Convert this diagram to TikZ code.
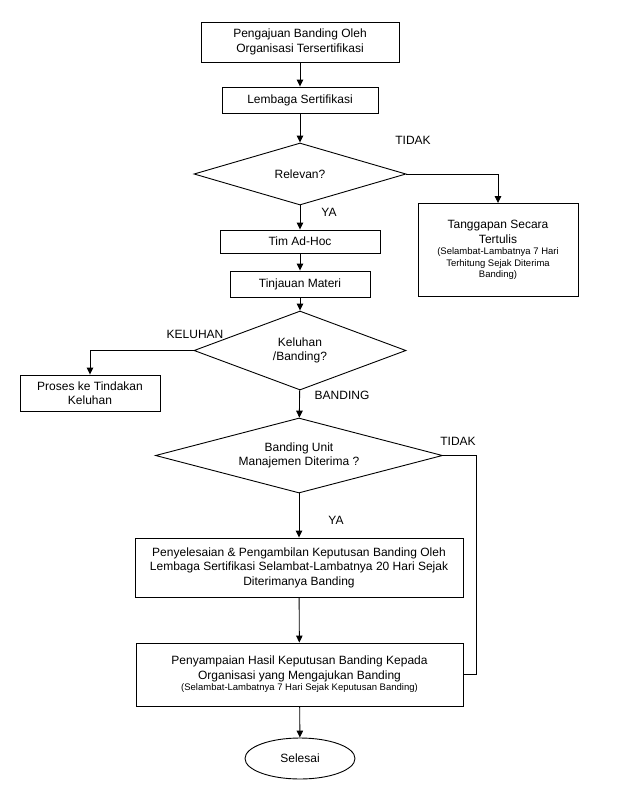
\documentclass[tikz,border=0pt]{standalone}
\usepackage{fontspec}
\setmainfont{Liberation Sans}
\usepackage{tikz}
\usetikzlibrary{positioning,arrows.meta,shapes.geometric}
\newcommand{\flowtext}{\fontsize{12}{14.5}\selectfont}
\newcommand{\flowsmall}{\fontsize{9.5}{11.5}\selectfont}

\begin{document}
\begin{tikzpicture}[x=1pt, y=-1pt,
  box/.style={draw, line width=0.9pt, align=flush center, inner sep=0pt, font=\flowtext},
  decision/.style={draw, diamond, line width=0.9pt, align=center, inner sep=0pt, font=\flowtext},
  terminal/.style={draw, ellipse, line width=0.9pt, inner sep=0pt, font=\flowtext},
  tag/.style={font=\flowtext},
  flow/.style={-{Triangle[length=7pt, width=6.5pt]}, line width=0.9pt}]
  \useasboundingbox (0,0) rectangle (634,793);

  % Submission
  \node[box, minimum width=198, minimum height=40] (pengajuan) at (300,42)
    {Pengajuan Banding Oleh\\Organisasi Tersertifikasi};
  \node[box, minimum width=156, minimum height=26] (lembaga) at (300,100)
    {Lembaga Sertifikasi};
  \draw[flow] (pengajuan) -- (lembaga);

  % Relevance check
  \node[decision, aspect=3.4, minimum width=212, minimum height=62] (relevan) at (300,174) {Relevan?};
  \draw[flow] (lembaga) -- (relevan);
  \node[box, minimum width=160, minimum height=93] (tanggapan) at (498,250)
    {Tanggapan Secara\\Tertulis\\[-3pt]
     \flowsmall (Selambat-Lambatnya 7 Hari\\[-3pt]
     \flowsmall Terhitung Sejak Diterima\\[-3pt]
     \flowsmall Banding)};
  \draw[flow] (relevan.east) -| (tanggapan.north);
  \node[tag] (tidak1) at (413,140) {TIDAK};
  \node[tag] (ya1) at (329,212) {YA};

  % Ad-hoc team
  \node[box, minimum width=160, minimum height=23] (timadhoc) at (300,241.5) {Tim Ad-Hoc};
  \node[box, minimum width=140, minimum height=26] (tinjauan) at (300,284) {Tinjauan Materi};
  \draw[flow] (relevan) -- (timadhoc);
  \draw[flow] (timadhoc) -- (tinjauan);

  % Complaint or appeal
  \node[decision, aspect=2.7, minimum width=212, minimum height=79] (jenis) at (300,350.5)
    {Keluhan\\/Banding?};
  \draw[flow] (tinjauan) -- (jenis);
  \node[box, minimum width=140, minimum height=36] (proses) at (90,393)
    {Proses ke Tindakan\\Keluhan};
  \draw[flow] (jenis.west) -| (proses.north);
  \node[tag] (keluhan) at (195,334) {KELUHAN};
  \node[tag] (banding) at (342,395) {BANDING};

  % Management unit decision
  \node[decision, aspect=3.8, minimum width=287, minimum height=75] (diterima) at (299,455.5)
    {Banding Unit\\Manajemen Diterima ?};
  \draw[flow] (jenis) -- (diterima);
  \node[tag] (tidak2) at (458,441) {TIDAK};
  \node[tag] (ya2) at (336,520) {YA};

  % Settlement and delivery
  \node[box, minimum width=328, minimum height=59] (penyelesaian) at (299,567.5)
    {Penyelesaian \& Pengambilan Keputusan Banding Oleh\\
     Lembaga Sertifikasi Selambat-Lambatnya 20 Hari Sejak\\
     Diterimanya Banding};
  \draw[flow] (diterima) -- (penyelesaian);
  \node[box, minimum width=327, minimum height=63] (penyampaian) at (299.5,674.5)
    {Penyampaian Hasil Keputusan Banding Kepada\\Organisasi yang Mengajukan Banding\\[-3pt]
     \flowsmall (Selambat-Lambatnya 7 Hari Sejak Keputusan Banding)};
  \draw[flow] (penyelesaian) -- (penyampaian);
  \coordinate (belok) at (476,455.5);
  \draw[line width=0.9pt] (diterima.east) -- (belok) |- (penyampaian.east);

  % End
  \node[terminal, minimum width=110, minimum height=41] (selesai) at (300,758.5) {Selesai};
  \draw[flow] (penyampaian) -- (selesai);
\end{tikzpicture}
\end{document}
